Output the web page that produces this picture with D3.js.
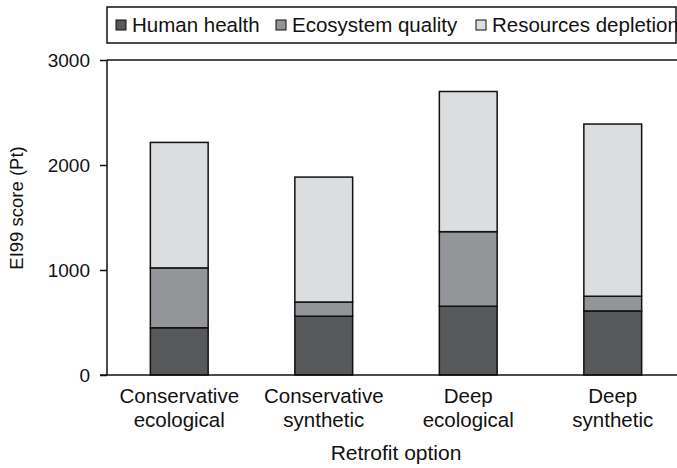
<!DOCTYPE html>
<html>
<head>
<script src="https://d3js.org/d3.v7.min.js"></script>
<style>
  body { margin: 0; background: #fff; }
  text { font-family: "Liberation Sans", Arial, sans-serif; fill: #111; }
</style>
</head>
<body>
<svg id="svg" width="677" height="468"></svg>
<script>
var categories = ["Conservative ecological", "Conservative synthetic", "Deep ecological", "Deep synthetic"];
var seriesNames = ["Human health", "Ecosystem quality", "Resources depletion"];
var humanHealth = [450, 560, 655, 610];
var ecosystemQuality = [570, 135, 710, 140];
var resourcesDepletion = [1195, 1190, 1335, 1640];
var yTicks = [0, 1000, 2000, 3000];
var colors = ["#58595b", "#939598", "#dcdddf"];

var svg = d3.select("#svg");
var plotLeft = 107, plotRight = 685, plotTop = 60, plotBottom = 375;

var rows = categories.map(function (c, i) {
    return { cat: c, "Human health": humanHealth[i], "Ecosystem quality": ecosystemQuality[i], "Resources depletion": resourcesDepletion[i] };
});
var stacked = d3.stack().keys(seriesNames)(rows);

var x = d3.scaleBand().domain(categories).range([plotLeft, plotRight]).paddingInner(0.6).paddingOuter(0.3);
var y = d3.scaleLinear().domain([0, 3000]).range([plotBottom, plotTop]);

// bars
svg.append("g").selectAll("g").data(stacked).enter().append("g")
    .attr("fill", function (d, i) { return colors[i]; })
    .selectAll("rect").data(function (d) { return d; }).enter().append("rect")
    .attr("x", function (d) { return x(d.data.cat); })
    .attr("width", x.bandwidth())
    .attr("y", function (d) { return y(d[1]); })
    .attr("height", function (d) { return y(d[0]) - y(d[1]); })
    .attr("stroke", "#111").attr("stroke-width", 1.5);

// frame top line
svg.append("line").attr("x1", plotLeft).attr("x2", 677).attr("y1", plotTop).attr("y2", plotTop)
    .attr("stroke", "#111").attr("stroke-width", 1.5);

// y axis
var yAxis = svg.append("g").attr("transform", "translate(" + plotLeft + ",0)")
    .call(d3.axisLeft(y).tickValues(yTicks).tickSize(7).tickPadding(10).tickFormat(d3.format("d")));
yAxis.select(".domain").attr("stroke", "#111").attr("stroke-width", 1.5).attr("d", "M0," + plotTop + "V" + plotBottom);
yAxis.selectAll(".tick line").attr("stroke", "#111").attr("stroke-width", 1.5);
yAxis.selectAll("text").attr("font-size", 19).attr("fill", "#111")
    .style("font-family", "Liberation Sans, Arial, sans-serif");

// x axis line
svg.append("line").attr("x1", plotLeft - 7).attr("x2", 677).attr("y1", plotBottom).attr("y2", plotBottom)
    .attr("stroke", "#111").attr("stroke-width", 1.5);

// category labels
var catLabels = svg.append("g").selectAll("text").data(categories).enter().append("text")
    .attr("x", function (d) { return x(d) + x.bandwidth() / 2; })
    .attr("y", 403).attr("text-anchor", "middle").attr("font-size", 20.5);
catLabels.each(function (d) {
    var words = d.split(" ");
    var t = d3.select(this);
    t.append("tspan").attr("x", t.attr("x")).attr("dy", 0).text(words[0]);
    t.append("tspan").attr("x", t.attr("x")).attr("dy", 24).text(words.slice(1).join(" "));
});

// axis titles
svg.append("text").attr("x", (plotLeft + plotRight) / 2).attr("y", 460).attr("text-anchor", "middle")
    .attr("font-size", 21).text("Retrofit option");
svg.append("text").attr("transform", "translate(23,208) rotate(-90)")
    .attr("text-anchor", "middle").attr("font-size", 18.5).text("EI99 score (Pt)");

// legend
svg.append("rect").attr("x", 107).attr("y", 7).attr("width", 569).attr("height", 36)
    .attr("fill", "#fff").attr("stroke", "#111").attr("stroke-width", 1.5);
var legendX = [116, 276, 476];
var leg = svg.append("g").selectAll("g").data(seriesNames).enter().append("g")
    .attr("transform", function (d, i) { return "translate(" + legendX[i] + ",20)"; });
leg.append("rect").attr("width", 10).attr("height", 10)
    .attr("fill", function (d, i) { return colors[i]; }).attr("stroke", "#111").attr("stroke-width", 1);
leg.append("text").attr("x", 16).attr("y", 12).attr("font-size", 20.5).text(function (d) { return d; });
</script>
</body>
</html>
